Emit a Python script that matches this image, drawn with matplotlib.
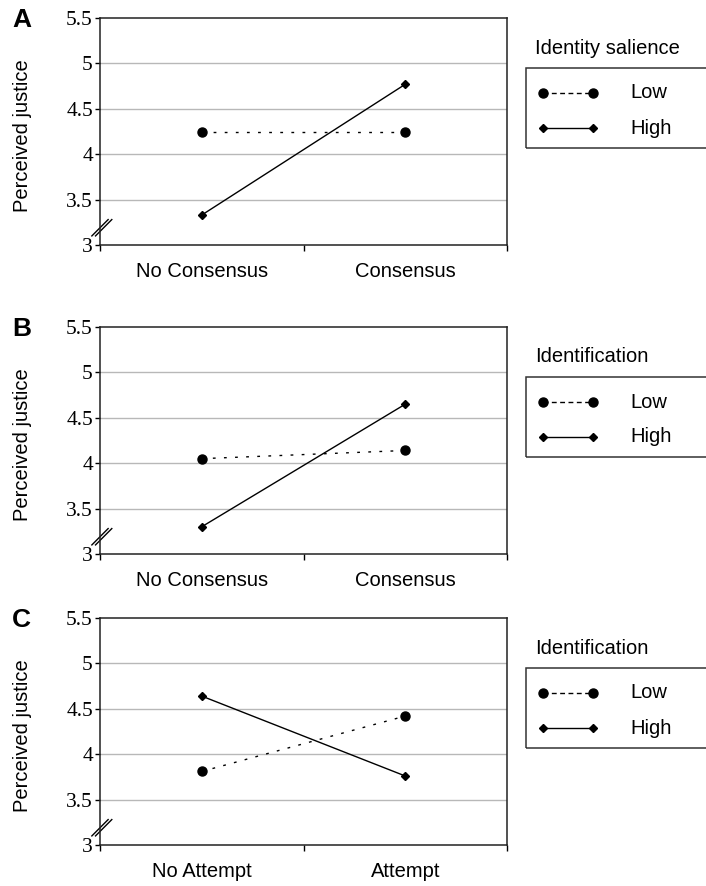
import matplotlib.pyplot as plt
from matplotlib.lines import Line2D
from matplotlib.patches import Rectangle

plt.rcParams['font.family'] = ['Liberation Sans', 'DejaVu Sans']

# Data
panel_letters = ['A', 'B', 'C']
x_labels = [['No Consensus', 'Consensus'],
            ['No Consensus', 'Consensus'],
            ['No Attempt', 'Attempt']]
legend_titles = ['Identity salience', 'Identification', 'Identification']
series_names = ['Low', 'High']
low_values = [[4.25, 4.25], [4.05, 4.14], [3.81, 4.42]]
high_values = [[3.33, 4.77], [3.30, 4.65], [4.64, 3.76]]
y_ticks = [3, 3.5, 4, 4.5, 5, 5.5]
y_tick_labels = ['3', '3.5', '4', '4.5', '5', '5.5']

W, H = 706, 886
fig = plt.figure(figsize=(W / 100, H / 100), dpi=100)

# layout in pixels
tops = [18, 327, 618]
ax_left, ax_right, ax_h = 100, 507, 227


def fx(px):
    return px / W


def fy(py):
    return 1 - py / H


low_style = dict(color='black', lw=1.0, ls=(0, (2.0, 6.0)), marker='o', ms=6.5)
high_style = dict(color='black', lw=1.0, ls='-', marker='D', ms=4.2)

for i in range(3):
    top = tops[i]
    ax = fig.add_axes([fx(ax_left), fy(top + ax_h), (ax_right - ax_left) / W, ax_h / H])
    xs = [0, 1]
    ax.set_xlim(-0.5, 1.5)
    ax.set_ylim(3, 5.5)

    # horizontal gridlines
    for yv in y_ticks[1:-1]:
        ax.axhline(yv, color='#b8b8b8', lw=1.0, zorder=0)

    ax.plot(xs, low_values[i], **low_style, clip_on=False, zorder=3)
    ax.plot(xs, high_values[i], **high_style, clip_on=False, zorder=3)

    for sp in ax.spines.values():
        sp.set_linewidth(1.1)
        sp.set_color('#222222')

    ax.set_yticks(y_ticks)
    ax.set_yticklabels(y_tick_labels, fontfamily='Liberation Serif', fontsize=15.5)
    ax.tick_params(axis='y', direction='out', length=3.6, width=1.0, pad=1.5)

    ax.set_xticks(xs)
    ax.set_xticklabels(x_labels[i], fontsize=14.5)
    ax.set_xticks([-0.5, 0.5, 1.5], minor=True)
    ax.tick_params(axis='x', which='major', length=0, pad=12)
    ax.tick_params(axis='x', which='minor', direction='out', length=4.3, width=1.0)

    ax.set_ylabel('Perceived justice', fontsize=14.5)
    ax.yaxis.set_label_coords(-0.168, 0.48)

    # axis break mark
    for off in (0.0, 0.009):
        ax.plot([-0.02 + off, 0.02 + off], [0.04, 0.112], transform=ax.transAxes,
                color='black', lw=1.0, clip_on=False)

    # panel letter
    fig.text(fx(12), fy(top - 10), panel_letters[i], fontsize=19, fontweight='bold',
             ha='left', va='top')

    # legend (title sits above the box)
    fig.text(fx(535), fy(top + 30), legend_titles[i], fontsize=14.5, ha='left', va='center')
    fig.patches.append(Rectangle((fx(526), fy(top + 130)), fx(200), 80 / H,
                                 transform=fig.transFigure, fill=False,
                                 edgecolor='#333333', lw=1.1))
    leg_styles = [dict(low_style, ls=(0, (3.5, 2.5))), high_style]
    for j, (name, st) in enumerate(zip(series_names, leg_styles)):
        yy = fy(top + 75 + 35 * j)
        fig.lines.append(Line2D([fx(543), fx(593)], [yy, yy], transform=fig.transFigure,
                                **st))
        fig.text(fx(630), yy, name, fontsize=14.5, ha='left', va='center')

fig.savefig('out.png', dpi=100)
